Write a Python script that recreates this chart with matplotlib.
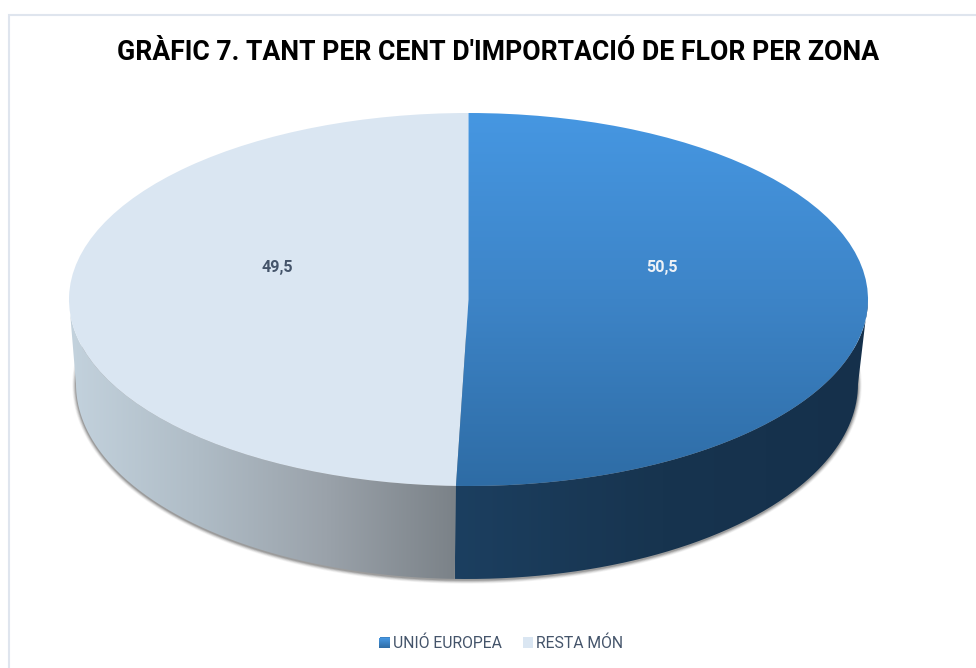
import numpy as np
import matplotlib
matplotlib.use("Agg")
import matplotlib.pyplot as plt
from matplotlib.colors import LinearSegmentedColormap as LSC
from matplotlib.patches import Patch, PathPatch
from matplotlib.path import Path

categories = ["UNIÓ EUROPEA", "RESTA MÓN"]
values = [50.5, 49.5]
value_labels = ["50,5", "49,5"]
title = "GRÀFIC 7. TANT PER CENT D'IMPORTACIÓ DE FLOR PER ZONA"

W, H = 976, 668
CX, CY, RX, RY = 468.5, 299.5, 399.5, 186.5      # top face, pixels
BX, BY, BRX, BRY = 467.0, 384.0, 391.0, 195.0    # bottom rim, pixels

plt.rcParams["font.family"] = ["Roboto", "DejaVu Sans"]
fig = plt.figure(figsize=(W / 100, H / 100), dpi=100, facecolor="white")
ax = fig.add_axes([0, 0, 1, 1])

def dx(x):
    return (np.asarray(x, float) - CX) / RX

def dy(y):
    return (CY - np.asarray(y, float)) / RY

wedges, _ = ax.pie(values, startangle=90, counterclock=False, radius=1, center=(0, 0),
                   colors=["#3d84c6", "#dae6f2"], wedgeprops=dict(linewidth=0, zorder=5))
ax.set_aspect("auto")
ax.set_xlim(dx(0), dx(W))
ax.set_ylim(dy(H), dy(0))
ax.axis("off")

fracs = np.cumsum(values) / np.sum(values)
t_split = 2 * np.pi * fracs[0]

def rim(t, cx, cy, rx, ry):
    return dx(cx + rx * np.sin(t)), dy(cy + ry * -np.cos(t))

def side(t0, t1):
    t = np.linspace(t0, t1, 200)
    bx, by = rim(t, BX, BY, BRX, BRY)
    tx, ty = rim(t[::-1], CX, CY, RX, RY)
    return np.column_stack([np.r_[bx, tx], np.r_[by, ty]])

def grad(path_or_patch, colors, extent, vertical=False, zorder=3):
    g = np.linspace(0, 1, 256)
    arr = g[:, None] if vertical else g[None, :]
    im = ax.imshow(arr, cmap=LSC.from_list("g", colors), extent=extent, aspect="auto",
                   origin="upper" if vertical else "lower", zorder=zorder,
                   interpolation="bilinear", vmin=0, vmax=1)
    im.set_clip_path(path_or_patch)
    return im

# shadow under the rim
for k, a in zip([5.0, 4.0, 3.0, 2.0, 1.0], [0.05, 0.08, 0.11, 0.15, 0.20]):
    t = np.linspace(np.pi * 0.42, np.pi * 1.58, 400)
    sx, sy = rim(t, BX, BY + 1.0, BRX + k * 0.75, BRY + k * 0.75)
    ax.fill(sx, sy, color="#303030", alpha=a, lw=0, zorder=1)

# side walls
left = PathPatch(Path(side(t_split, 1.5 * np.pi)), fc="none", ec="none",
                 transform=ax.transData)
right = PathPatch(Path(side(np.pi / 2, t_split)), fc="none", ec="none",
                  transform=ax.transData)
ax.add_patch(left)
ax.add_patch(right)
grad(left, ["#c3d2dd", "#afbcc6", "#9aa2aa", "#7b8288"],
     [dx(70), dx(456), dy(600), dy(290)])
grad(right, ["#1c3f60", "#17344f", "#15304b"],
     [dx(455), dx(870), dy(600), dy(290)])

# gradient on the top face of the first slice
wedges[0].set_facecolor("none")
grad(wedges[0], ["#4697e2", "#3d84c7", "#2e6ca5"],
     [dx(CX - RX - 1), dx(CX + RX + 1), dy(487), dy(112)], vertical=True, zorder=5)

for lab, xp, col in zip(value_labels, [662, 277], ["#eef2f7", "#44546a"]):
    ax.text(dx(xp), dy(267.5), lab, ha="center", va="center", fontsize=11.6,
            fontweight="bold", color=col, zorder=7)

fig.text(498.5 / W, 1 - 53 / H, title, ha="center", va="center", fontsize=19.15,
         fontweight="bold", color="black")

# chart frame
ax.plot(dx([9, 9, W]), dy([H, 14.5, 14.5]), color="#dfe5ee", lw=1.5, zorder=0,
        solid_joinstyle="miter", clip_on=False)

handles = [Patch(fc="#3d84c6", ec="none"), Patch(fc="#dae6f2", ec="none")]
leg = ax.legend(handles, categories, loc="center", bbox_to_anchor=(501.5 / W, 1 - 643.5 / H),
                bbox_transform=fig.transFigure, ncol=2, frameon=False, fontsize=11.35,
                labelcolor="#44546a", handlelength=0.63, handleheight=0.72,
                handletextpad=0.19, columnspacing=1.39, borderpad=0, borderaxespad=0)
# gradient over the first legend key
g = np.linspace(0, 1, 64)[:, None]
ax.imshow(g, cmap=LSC.from_list("k", ["#4697e2", "#2e6ca5"]),
          extent=[dx(379), dx(389.5), dy(648), dy(638)], aspect="auto", origin="upper", zorder=8)

ax.set_xlim(dx(0), dx(W))
ax.set_ylim(dy(H), dy(0))
fig.savefig("out.png", dpi=100, facecolor="white")
